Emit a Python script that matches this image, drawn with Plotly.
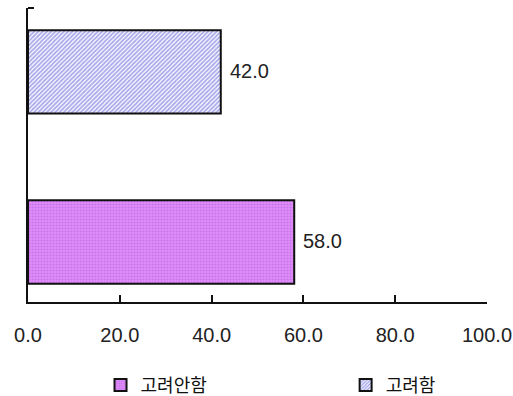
import plotly.graph_objects as go

# Survey result: share of respondents (%)
categories = ["고려안함", "고려함"]
values = [58.0, 42.0]
x_ticks = [0, 20, 40, 60, 80, 100]
x_tick_labels = ["0.0", "20.0", "40.0", "60.0", "80.0", "100.0"]

styles = {
    "고려안함": dict(bgcolor="#DD8CF8", fgcolor="#B456E0", shape=".", size=3, solidity=0.35),
    "고려함": dict(bgcolor="#FFFFFF", fgcolor="#5252D8", shape="/", size=3, solidity=0.6),
}
legend_ids = {"고려안함": "legend", "고려함": "legend2"}

num_font = "Liberation Sans, Arial, sans-serif"
kr_font = "Noto Sans CJK KR, sans-serif"

fig = go.Figure()
for cat, val in zip(categories, values):
    st = styles[cat]
    fig.add_trace(go.Bar(
        y=[cat], x=[val], orientation="h", name=cat,
        width=0.49, legend=legend_ids[cat],
        marker=dict(
            color=st["bgcolor"],
            line=dict(color="#111111", width=2),
            pattern=dict(shape=st["shape"], fgcolor=st["fgcolor"], bgcolor=st["bgcolor"],
                         size=st["size"], solidity=st["solidity"], fillmode="overlay"),
        ),
    ))
    # value label to the right of the bar end
    fig.add_annotation(x=val, y=cat, text=f"{val:.1f}", showarrow=False,
                       xanchor="left", xshift=7, yshift=1,
                       font=dict(family=num_font, size=20, color="#222222"))

# short tick at the top end of the category axis
fig.add_shape(type="line", xref="paper", yref="paper", x0=0, x1=0.013, y0=1, y1=1,
              line=dict(color="#111111", width=2))

legend_style = dict(orientation="h", y=-0.22, yanchor="top", xanchor="left",
                    font=dict(family=kr_font, size=18, color="#111111"),
                    itemwidth=30, bgcolor="rgba(0,0,0,0)")

fig.update_layout(
    width=513, height=396,
    margin=dict(l=28, r=26, t=8, b=94, autoexpand=False),
    paper_bgcolor="white", plot_bgcolor="white",
    barmode="overlay",
    showlegend=True,
    legend=dict(x=0.158, **legend_style),
    legend2=dict(x=0.692, **legend_style),
    xaxis=dict(range=[0, 100], tickvals=x_ticks, ticktext=x_tick_labels,
               ticks="inside", ticklen=7, tickwidth=1.5, tickcolor="#111111",
               showline=True, linecolor="#111111", linewidth=2,
               showgrid=False, zeroline=False,
               ticklabelstandoff=14,
               tickfont=dict(family=num_font, size=20, color="#222222")),
    yaxis=dict(categoryorder="array", categoryarray=categories,
               range=[-0.353, 1.376], showticklabels=False, ticks="",
               showline=True, linecolor="#111111", linewidth=2,
               showgrid=False, zeroline=False),
)

fig.write_html("out.html")
